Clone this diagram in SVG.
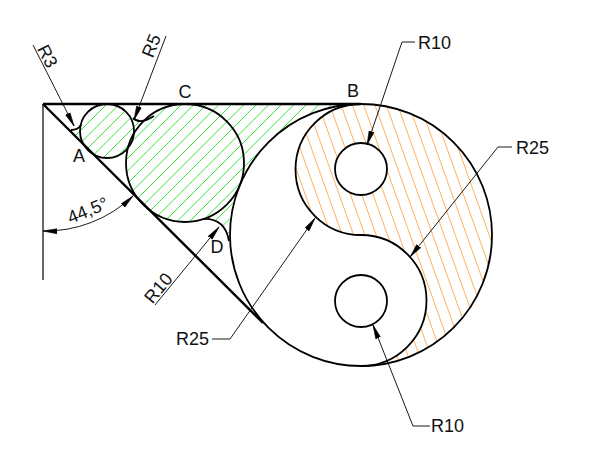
<svg xmlns="http://www.w3.org/2000/svg" width="600" height="468" viewBox="0 0 600 468">
<style>
text{font-family:"Liberation Sans",Arial,sans-serif;font-size:18px;fill:#111}
.o{fill:none;stroke:#000;stroke-width:1.8}
.b{fill:none;stroke:#000;stroke-width:2.4}
.l{fill:none;stroke:#000;stroke-width:.9}
.a{marker-end:url(#ah)}
</style>
<defs>
<clipPath id="gc">
<circle cx="107" cy="131" r="27"/>
<circle cx="185" cy="163" r="59"/>
<path d="M185 104H350L361 104A131 131 0 0 0 229 240Q226 220 205 219L185 163Z"/>
<path d="M70 130Q77 130 81 125L80 131L84 145Z"/>
<path d="M132 118Q140 125 154 115L145 130L133 128Z"/>
</clipPath>
<clipPath id="oc">
<path clip-rule="evenodd" d="M361 104A131 131 0 0 1 361 366A65.5 65.5 0 0 0 361 235A65.5 65.5 0 0 1 361 104ZM335 169a26 26 0 1 0 52 0a26 26 0 1 0-52 0Z"/>
</clipPath>
<marker id="ah" markerUnits="userSpaceOnUse" markerWidth="16" markerHeight="8" refX="14" refY="4" orient="auto-start-reverse"><path d="M0 1.5L14 4L0 6.500Z" fill="#000" stroke="#000" stroke-width=".6"/></marker>
</defs>
<g id="hatch">
<g clip-path="url(#gc)"><path fill="none" stroke="#22e022" stroke-width=".9" d="M96 90l-170 170M108.500 90l-170 170M121 90l-170 170M133.500 90l-170 170M146 90l-170 170M158.500 90l-170 170M171 90l-170 170M183.500 90l-170 170M196 90l-170 170M208.500 90l-170 170M221 90l-170 170M233.500 90l-170 170M246 90l-170 170M258.500 90l-170 170M271 90l-170 170M283.500 90l-170 170M296 90l-170 170M308.500 90l-170 170M321 90l-170 170M333.500 90l-170 170M346 90l-170 170M358.500 90l-170 170M371 90l-170 170M383.500 90l-170 170"/></g>
<g clip-path="url(#oc)"><path fill="none" stroke="#ffb060" stroke-width="1" d="M260.200 100l100 280M271.500 100l100 280M282.800 100l100 280M294.100 100l100 280M305.400 100l100 280M316.700 100l100 280M328 100l100 280M339.300 100l100 280M350.600 100l100 280M361.900 100l100 280M373.200 100l100 280M384.500 100l100 280M395.800 100l100 280M407.100 100l100 280M418.400 100l100 280M429.700 100l100 280M441 100l100 280M452.300 100l100 280"/></g>
</g>
<g id="outlines">
<path class="b" d="M43 104H361M43 104L263 323"/>
<path d="M43 104V280" fill="none" stroke="#000" stroke-width="1.2"/>
<circle class="o" cx="107" cy="131" r="27"/>
<circle class="o" cx="185" cy="163" r="59"/>
<circle class="o" cx="361" cy="235" r="131"/>
<circle class="o" cx="361" cy="169" r="26"/>
<circle class="o" cx="361" cy="301" r="26"/>
<path class="o" d="M361 104A65.500 65.500 0 0 0 361 235A65.500 65.500 0 0 1 361 366"/>
<path class="o" d="M71 130Q78 130 81 125M133 118Q140 125 154 116M203 219Q225 218 229 241"/>
</g>
<g id="connectors">
<path class="l a" d="M33 45L74 126"/>
<path class="l a" d="M166 36L134 120"/>
<path class="l a" d="M415 42H402L367 145"/>
<path class="l a" d="M512 147H498L410 257"/>
<path class="l a" d="M212 339H230L315 218"/>
<path class="l a" d="M430 426H413L373 325"/>
<path class="l a" d="M155 305L219 227"/>
<path class="l" d="M43 231A127 127 0 0 0 133 196" marker-start="url(#ah)" marker-end="url(#ah)"/>
</g>
<g id="labels">
<text x="185" y="98" text-anchor="middle">C</text>
<text x="353" y="97" text-anchor="middle">B</text>
<text x="79" y="162" text-anchor="middle">A</text>
<text x="217" y="253" text-anchor="middle">D</text>
<text x="418" y="49">R10</text>
<text x="516" y="154">R25</text>
<text x="176" y="345">R25</text>
<text x="431" y="432">R10</text>
<text text-anchor="middle" transform="translate(42 59) rotate(63)">R3</text>
<text text-anchor="middle" transform="translate(157 48) rotate(-68)">R5</text>
<text text-anchor="middle" transform="translate(163 292) rotate(-50)">R10</text>
<text text-anchor="middle" transform="translate(90 216) rotate(-22)">44,5°</text>
</g>
</svg>
